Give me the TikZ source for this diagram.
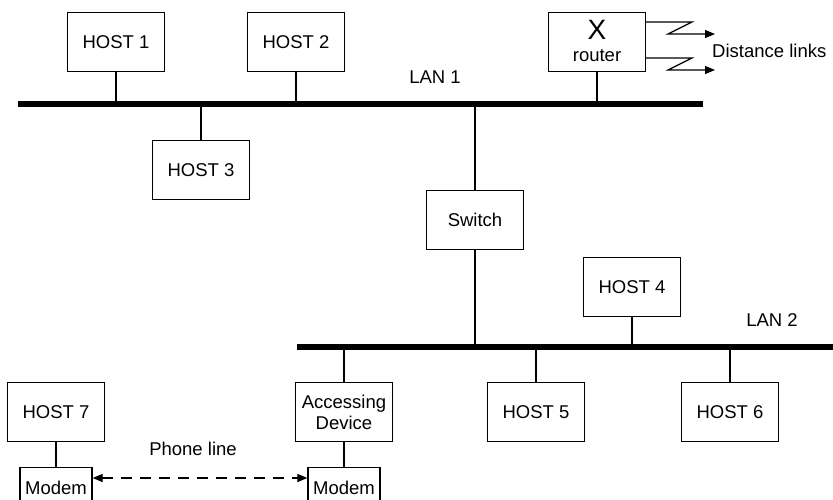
\documentclass[tikz,border=0pt]{standalone}
\usepackage{fontspec}
\setmainfont{Liberation Sans}
\usetikzlibrary{arrows.meta}
\begin{document}
\begin{tikzpicture}[x=1pt,y=-1pt,
  hostbox/.style={draw,line width=1.3pt,minimum width=97pt,minimum height=59pt,inner sep=0pt,font=\fontsize{18.5}{21}\selectfont,align=center},
  modembox/.style={draw,line width=1.3pt,minimum width=72pt,minimum height=40pt,inner sep=0pt,font=\fontsize{18.5}{21}\selectfont},
  link/.style={line width=1.2pt},
  bus/.style={line width=6pt},
  lbl/.style={font=\fontsize{18.5}{21}\selectfont,inner sep=0pt}]
\useasboundingbox (0,0) rectangle (833,499);
\clip (0,0) rectangle (833,499);
% LAN bars
\coordinate (l1a) at (18,104);
\coordinate (l1b) at (703,104);
\coordinate (l2a) at (297,347);
\coordinate (l2b) at (833,347);
\draw[bus] (l1a) -- (l1b);
\draw[bus] (l2a) -- (l2b);
\node[lbl] (lan1) at (435,77) {LAN 1};
\node[lbl] (lan2) at (772,320) {LAN 2};
% hosts
\node[hostbox] (h1) at (116,42) {HOST 1};
\node[hostbox] (h2) at (296,42) {HOST 2};
\node[hostbox] (rt) at (597,42) {};
\node[font=\fontsize{28}{30}\selectfont,inner sep=0pt] (rx) at (597,30) {X};
\node[lbl] (rl) at (597,56) {router};
\node[hostbox] (h3) at (201,170) {HOST 3};
\node[hostbox] (sw) at (475,220) {Switch};
\node[hostbox] (h4) at (632,287) {HOST 4};
\node[hostbox] (ad) at (344,412) {Accessing\\[0pt]Device};
\node[hostbox] (h5) at (536,412) {HOST 5};
\node[hostbox] (h6) at (730,412) {HOST 6};
\node[hostbox] (h7) at (56,412) {HOST 7};
\node[modembox,anchor=north] (m1) at (56,467) {Modem};
\node[modembox,anchor=north] (m2) at (344,467) {Modem};
% connectors to LAN 1
\draw[link] (h1.south) -- (h1.south |- l1a);
\draw[link] (h2.south) -- (h2.south |- l1a);
\draw[link] (rt.south) -- (rt.south |- l1a);
\draw[link] (h3.north) -- (h3.north |- l1a);
\draw[link] (sw.north) -- (sw.north |- l1a);
% connectors to LAN 2
\draw[link] (sw.south) -- (sw.south |- l2a);
\draw[link] (h4.south) -- (h4.south |- l2a);
\draw[link] (ad.north) -- (ad.north |- l2a);
\draw[link] (h5.north) -- (h5.north |- l2a);
\draw[link] (h6.north) -- (h6.north |- l2a);
% modems
\draw[link] (h7.south) -- (m1.north);
\draw[link] (ad.south) -- (m2.north);
\draw[link,dashed,dash pattern=on 11pt off 8pt,{Triangle[length=10pt,width=8pt]}-{Triangle[length=10pt,width=8pt]}] (m1.east |- 0,478) -- (m2.west |- 0,478);
\node[lbl] (pl) at (193,449) {Phone line};
% distance links
\coordinate (z1) at (692,22);
\coordinate (z1b) at (668,34);
\coordinate (z1c) at (715,34);
\coordinate (z2) at (692,58);
\coordinate (z2b) at (668,70);
\coordinate (z2c) at (715,70);
\draw[link,-{Triangle[length=10pt,width=8pt]}] (rt.east |- z1) -- (z1) -- (z1b) -- (z1c);
\draw[link,-{Triangle[length=10pt,width=8pt]}] (rt.east |- z2) -- (z2) -- (z2b) -- (z2c);
\node[lbl,anchor=west] (dl) at (712,51) {Distance links};
\end{tikzpicture}
\end{document}
